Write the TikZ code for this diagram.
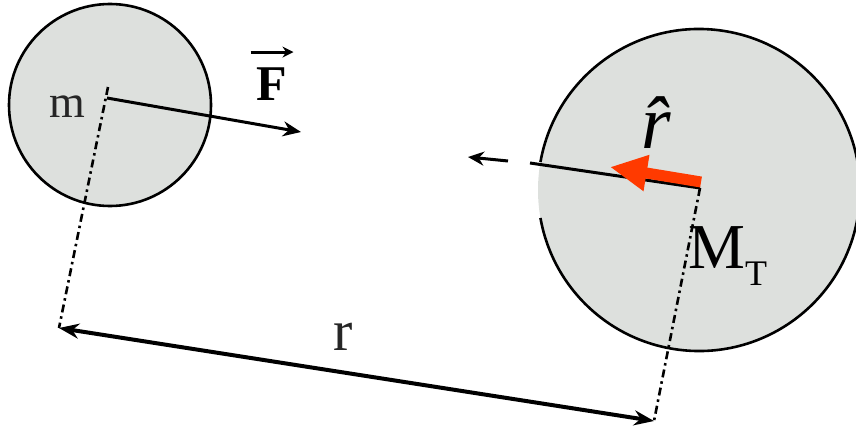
\documentclass[tikz,border=0pt]{standalone}
\usepackage{fontspec}
\setmainfont{Liberation Serif}
\usetikzlibrary{arrows.meta}
\definecolor{ballgray}{RGB}{221,224,221}
\definecolor{rhatred}{RGB}{255,58,0}
\begin{document}
\begin{tikzpicture}[x=1pt,y=-1pt,
  ball/.style={circle, fill=ballgray, inner sep=0pt},
  outline/.style={line width=2.6pt},
  thickline/.style={line width=3pt},
  dashdotline/.style={line width=2.6pt, dash pattern=on 8pt off 4pt on 2.5pt off 4pt},
  redarrow/.style={line width=11pt, draw=rhatred, -{Triangle[length=37pt,width=34pt]}},
  lab/.style={inner sep=0pt, anchor=base}
]
\useasboundingbox (0,0) rectangle (856,428);

% bodies
\node[ball, draw, outline, minimum size=202pt] (m) at (110,105) {};
\node[ball, minimum size=322pt] (M) at (699,190) {};
\draw[outline] (M.center) ++(190:161) arc[start angle=190, end angle=530, radius=161];

% key points
\coordinate (mc) at (107,98);
\coordinate (mtop) at (108,87);
\coordinate (Ftip) at (301,132);
\coordinate (Mc) at (700,188);
\coordinate (Mline) at (530,163);
\coordinate (fa1) at (508,161);
\coordinate (fa2) at (468,157);
\coordinate (rL) at (59,328);
\coordinate (rR) at (654,421);
\coordinate (rt) at (701,182);
\coordinate (rh) at (610,167);

% force on m
\draw[thickline, -{Stealth[length=18pt,width=15pt]}] (mc) -- (Ftip);
% force on M
\draw[thickline] (Mc) -- (Mline);
\draw[thickline, -{Stealth[length=16pt,width=14pt]}] (fa1) -- (fa2);

% construction lines
\draw[dashdotline] (mtop) -- (rL);
\draw[dashdotline] (Mc) -- (rR);

% distance r
\draw[line width=4pt, {Stealth[length=20pt,width=15pt]}-{Stealth[length=20pt,width=15pt]}] (rL) -- (rR);

% unit vector
\draw[redarrow] (rt) -- (rh);

% labels
\node[lab, text=black!85, font=\fontsize{46}{46}\selectfont] (mlab) at (67,117) {m};
\node[lab, text=black!85, font=\fontsize{58}{58}\selectfont] (rlab) at (343,350) {r};
\node[lab, font=\fontsize{50}{50}\selectfont\bfseries] (F) at (272,100) {F};
\draw[line width=3pt, -{Stealth[length=11pt,width=11pt]}] ([shift={(-6,-15)}]F.north west) -- ([shift={(6,-15)}]F.north east);
\node[lab, anchor=base west, font=\fontsize{64}{64}\selectfont] (MT) at (688,268) {M\raisebox{-17pt}{\fontsize{36}{36}\selectfont T}};
\node[lab, font=\fontsize{76}{76}\selectfont\itshape] (rhat) at (656,148) {\^{r}};
\end{tikzpicture}
\end{document}
